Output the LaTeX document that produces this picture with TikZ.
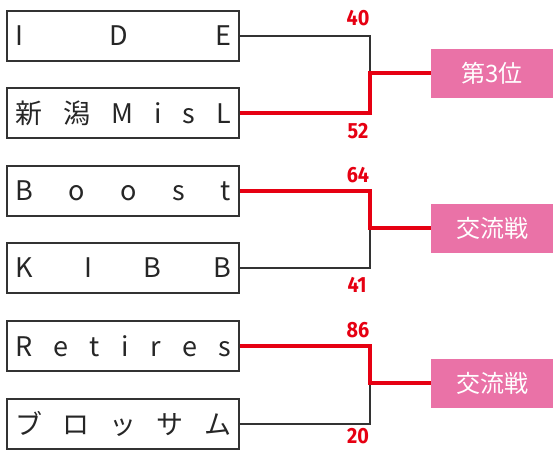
\documentclass[tikz,border=0pt]{standalone}
\usepackage{fontspec}
\setmainfont{Noto Sans CJK JP}
\newfontfamily\numfont{Fira Sans}
\usepackage{graphicx}
\definecolor{wred}{HTML}{E60012}
\definecolor{lpink}{HTML}{EA72A7}
\definecolor{bdark}{HTML}{333333}
\newcommand{\spreadtext}[1]{\makebox[216pt][s]{#1}}
\begin{document}
\begin{tikzpicture}[x=1pt,y=-1pt,
  team/.style={draw=bdark,line width=1.3pt,minimum width=232pt,minimum height=50pt,inner sep=0pt,font=\fontsize{27pt}{27pt}\selectfont,text=black!85},
  res/.style={fill=lpink,minimum width=122pt,minimum height=49pt,inner sep=0pt,text=white,font=\fontsize{24pt}{24pt}\selectfont},
  score/.style={text=wred,inner sep=0pt,text depth=0pt,font=\numfont\bfseries\fontsize{22pt}{22pt}\selectfont},
  lose/.style={draw=bdark,line width=1.5pt},
  win/.style={draw=wred,line width=4pt}]
\useasboundingbox (0,0) rectangle (553,450);
% teams
\node[team] (t1) at (123,36) {\spreadtext{I\hfill D\hfill E}};
\node[team] (t2) at (123,113) {\spreadtext{新\hfill 潟\hfill M\hfill i\hfill s\hfill L}};
\node[team] (t3) at (123,191) {\spreadtext{B\hfill o\hfill o\hfill s\hfill t}};
\node[team] (t4) at (123,268) {\spreadtext{K\hfill I\hfill B\hfill B}};
\node[team] (t5) at (123,346) {\spreadtext{R\hfill e\hfill t\hfill i\hfill r\hfill e\hfill s}};
\node[team] (t6) at (123,424) {\spreadtext{ブ\hfill ロ\hfill ッ\hfill サ\hfill ム}};
% results
\node[res] (r1) at (492,73) {第3位};
\node[res] (r2) at (492,228) {交流戦};
\node[res] (r3) at (492,383) {交流戦};
% bracket corner coordinates
\coordinate (c1) at (370,36);
\coordinate (c2) at (370,113);
\coordinate (m1) at (370,73);
\coordinate (c3) at (370,191);
\coordinate (c4) at (370,268);
\coordinate (m2) at (370,228);
\coordinate (c5) at (370,346);
\coordinate (c6) at (370,424);
\coordinate (m3) at (370,383);
% losers
\draw[lose] (t1.east) -- (c1) -- (m1);
\draw[lose] (t4.east) -- (c4) -- (m2);
\draw[lose] (t6.east) -- (c6) -- (m3);
% winners
\draw[win] (t2.east) -- (c2) -- (m1) -- (r1.west);
\draw[win] (t3.east) -- (c3) -- (m2) -- (r2.west);
\draw[win] (t5.east) -- (c5) -- (m3) -- (r3.west);
% scores
\node[score] (s1) at (358,18) {\scalebox{0.9}[1]{40}};
\node[score] (s2) at (358,131) {\scalebox{0.9}[1]{52}};
\node[score] (s3) at (358,175) {\scalebox{0.9}[1]{64}};
\node[score] (s4) at (357,285) {\scalebox{0.9}[1]{41}};
\node[score] (s5) at (358,330) {\scalebox{0.9}[1]{86}};
\node[score] (s6) at (358,436) {\scalebox{0.9}[1]{20}};
\end{tikzpicture}
\end{document}
